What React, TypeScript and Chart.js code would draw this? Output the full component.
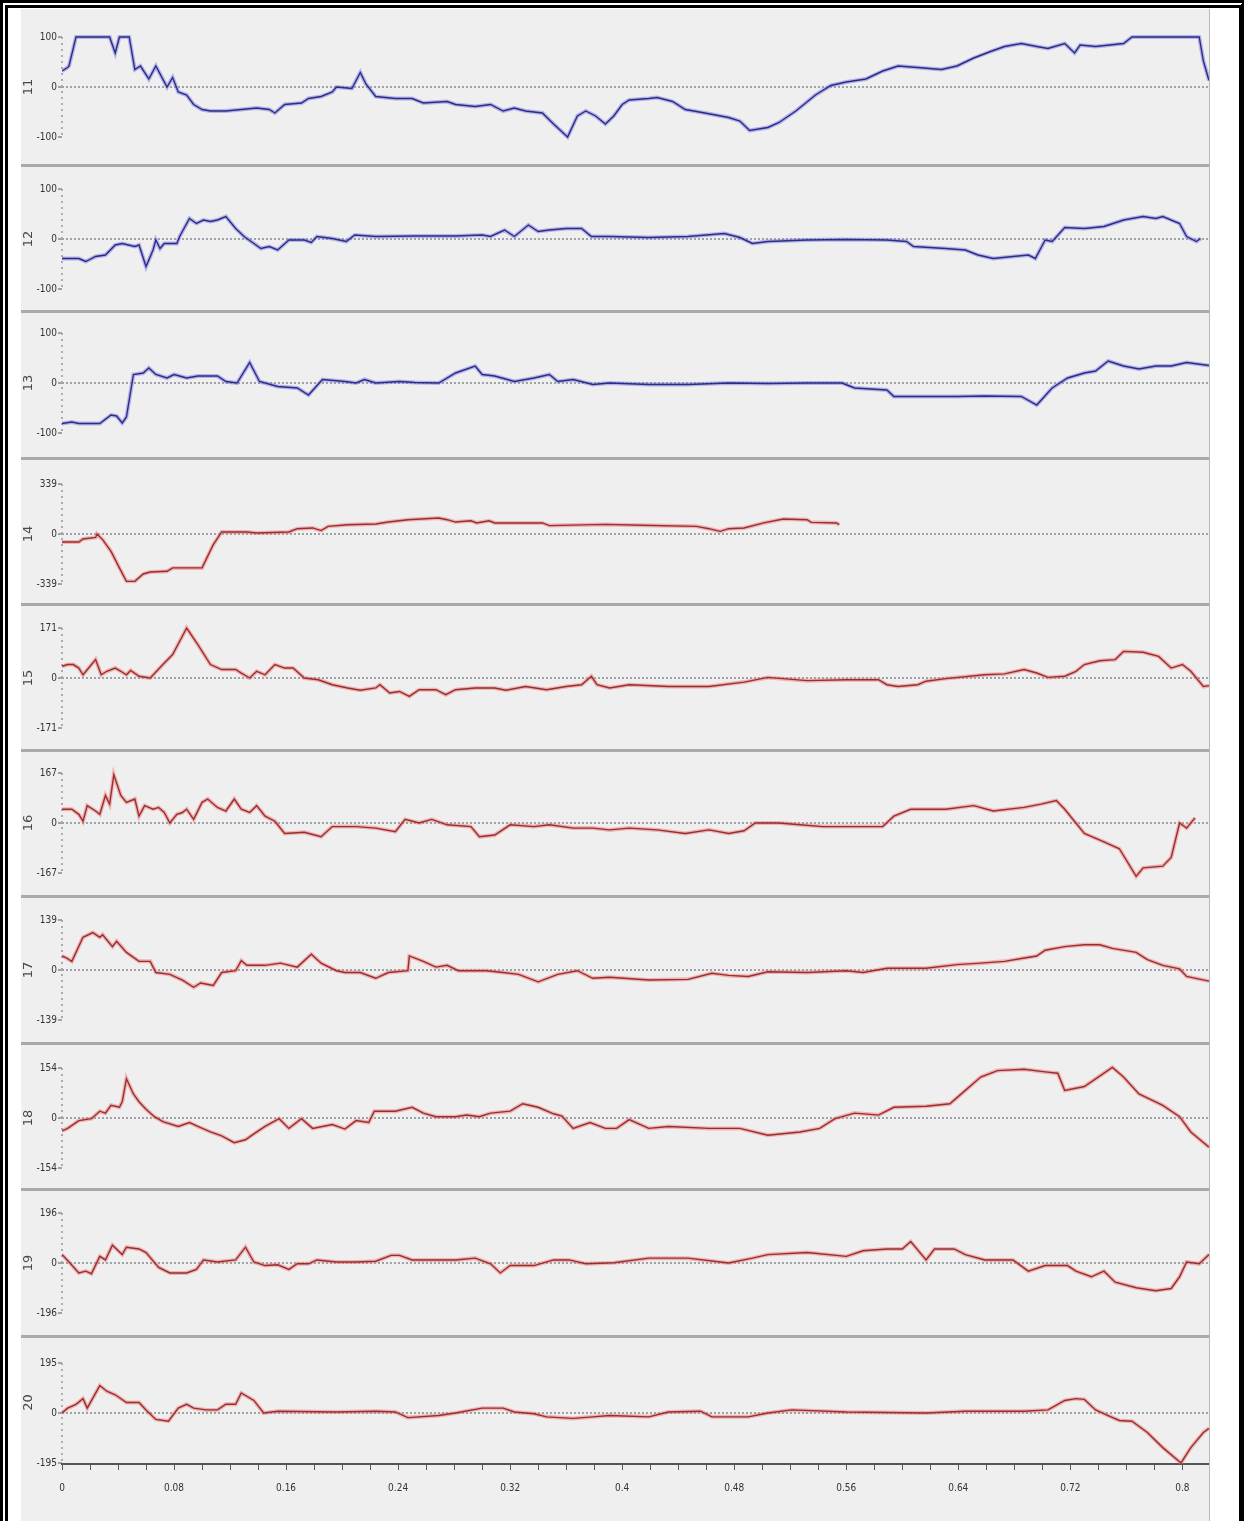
import React, { useEffect, useRef } from 'react';
import { Chart, registerables } from 'chart.js';

Chart.register(...registerables);

// ---------- DATA ----------
const panelNames = ['11', '12', '13', '14', '15', '16', '17', '18', '19', '20'];
const panelMax = [100, 100, 100, 339, 171, 167, 139, 154, 196, 195];
const panelColor = ['blue', 'blue', 'blue', 'red', 'red', 'red', 'red', 'red', 'red', 'red'];

const xTickLabels = ['0', '0.08', '0.16', '0.24', '0.32', '0.4', '0.48', '0.56', '0.64', '0.72', '0.8'];
const xMinorStep = 0.02;
const xMin = 0;
const xMax = 0.819;

const t11 = [0,0.004,0.005,0.010,0.034,0.038,0.041,0.048,0.052,0.056,0.062,0.067,0.075,0.079,0.083,0.089,0.094,0.100,0.106,0.117,0.128,0.139,0.148,0.152,0.159,0.171,0.176,0.185,0.193,0.196,0.207,0.213,0.217,0.224,0.238,0.250,0.258,0.275,0.281,0.295,0.306,0.315,0.323,0.331,0.343,0.351,0.361,0.368,0.374,0.381,0.388,0.394,0.400,0.405,0.419,0.425,0.436,0.445,0.459,0.476,0.484,0.491,0.504,0.512,0.524,0.538,0.549,0.560,0.574,0.586,0.597,0.611,0.628,0.639,0.651,0.663,0.673,0.685,0.696,0.704,0.716,0.723,0.727,0.738,0.758,0.764,0.812,0.815,0.819];
const v11 = [32,39,42,100,100,68,100,100,35,42,16,42,0,19,-10,-16,-35,-45,-48,-48,-45,-42,-45,-52,-35,-32,-23,-19,-10,0,-3,29,6,-19,-23,-23,-32,-29,-35,-39,-35,-48,-42,-48,-52,-74,-100,-58,-48,-58,-74,-58,-35,-26,-23,-21,-29,-45,-52,-61,-68,-87,-81,-71,-48,-16,3,10,16,32,42,39,35,42,58,71,81,87,81,77,87,68,84,81,87,100,100,52,13];

const t12 = [0,0.012,0.017,0.024,0.031,0.038,0.043,0.052,0.055,0.060,0.065,0.067,0.070,0.073,0.082,0.084,0.091,0.096,0.101,0.106,0.111,0.117,0.124,0.130,0.137,0.142,0.148,0.154,0.162,0.173,0.178,0.182,0.193,0.203,0.209,0.224,0.252,0.281,0.300,0.306,0.316,0.323,0.333,0.340,0.348,0.360,0.371,0.378,0.391,0.419,0.447,0.473,0.484,0.493,0.504,0.532,0.560,0.589,0.603,0.608,0.631,0.645,0.654,0.665,0.679,0.690,0.695,0.702,0.707,0.716,0.730,0.744,0.758,0.772,0.781,0.786,0.798,0.803,0.810,0.813];
const v12 = [-39,-39,-45,-35,-32,-12,-9,-15,-12,-55,-22,-2,-19,-9,-9,5,41,31,38,35,38,45,21,5,-9,-19,-15,-22,-2,-2,-7,5,1,-5,8,5,6,6,8,5,18,5,28,15,18,21,21,5,5,3,5,11,3,-9,-5,-2,-1,-2,-5,-15,-19,-22,-32,-39,-35,-32,-39,-2,-5,23,21,25,38,45,41,45,31,5,-5,1];

const t13 = [0,0.007,0.012,0.027,0.035,0.039,0.043,0.046,0.051,0.058,0.062,0.067,0.075,0.080,0.089,0.097,0.111,0.117,0.125,0.134,0.141,0.154,0.168,0.176,0.186,0.202,0.210,0.216,0.224,0.241,0.252,0.269,0.281,0.295,0.300,0.309,0.323,0.337,0.348,0.354,0.365,0.379,0.391,0.419,0.447,0.476,0.504,0.532,0.557,0.566,0.589,0.594,0.617,0.639,0.659,0.685,0.696,0.707,0.718,0.730,0.738,0.747,0.758,0.769,0.781,0.792,0.803,0.819];
const v13 = [-81,-78,-81,-81,-64,-66,-80,-68,17,20,30,17,10,17,10,14,14,3,0,41,3,-7,-10,-24,7,3,0,7,0,3,1,0,20,34,17,14,3,10,17,3,7,-3,0,-3,-3,0,-1,0,0,-10,-14,-27,-27,-27,-26,-27,-44,-10,10,20,24,44,34,28,34,34,41,35];

const t14 = [0,0.012,0.015,0.024,0.025,0.029,0.035,0.041,0.046,0.052,0.058,0.063,0.075,0.079,0.100,0.108,0.114,0.132,0.139,0.162,0.168,0.179,0.185,0.190,0.204,0.224,0.233,0.247,0.269,0.275,0.281,0.292,0.296,0.305,0.309,0.343,0.348,0.388,0.414,0.453,0.462,0.470,0.476,0.487,0.501,0.515,0.532,0.535,0.553,0.555];
const v14 = [-54,-54,-34,-23,0,-38,-118,-230,-321,-321,-271,-258,-253,-230,-230,-72,14,14,7,14,36,41,23,52,63,68,81,97,108,97,81,90,75,90,75,75,57,65,59,52,36,18,36,41,75,102,97,79,75,63];

const t15 = [0,0.004,0.008,0.012,0.015,0.019,0.024,0.028,0.032,0.038,0.042,0.046,0.049,0.055,0.063,0.072,0.079,0.089,0.097,0.106,0.114,0.124,0.128,0.134,0.139,0.145,0.152,0.159,0.165,0.173,0.183,0.193,0.204,0.213,0.224,0.227,0.234,0.241,0.248,0.255,0.267,0.274,0.281,0.295,0.309,0.317,0.331,0.346,0.360,0.371,0.378,0.382,0.391,0.405,0.433,0.462,0.487,0.504,0.532,0.560,0.583,0.589,0.597,0.611,0.617,0.631,0.659,0.673,0.687,0.696,0.704,0.716,0.724,0.730,0.741,0.752,0.758,0.772,0.783,0.792,0.800,0.806,0.815,0.819];
const v15 = [40,46,46,34,11,34,63,11,23,34,23,11,26,6,0,46,80,171,114,46,29,29,17,0,23,11,46,34,34,0,-6,-23,-34,-42,-34,-23,-51,-46,-63,-40,-40,-57,-40,-34,-34,-42,-29,-40,-29,-23,6,-23,-34,-23,-29,-29,-14,2,-9,-6,-6,-23,-29,-23,-11,-2,11,14,29,17,2,6,23,46,59,63,91,88,74,34,46,23,-29,-26];

const t16 = [0,0.007,0.012,0.015,0.018,0.024,0.027,0.031,0.034,0.037,0.042,0.046,0.052,0.055,0.059,0.065,0.069,0.073,0.077,0.082,0.086,0.089,0.094,0.100,0.104,0.111,0.117,0.123,0.128,0.134,0.139,0.145,0.152,0.159,0.173,0.185,0.193,0.210,0.224,0.238,0.245,0.255,0.264,0.275,0.292,0.298,0.309,0.320,0.337,0.348,0.365,0.379,0.391,0.405,0.425,0.445,0.462,0.476,0.487,0.495,0.512,0.527,0.543,0.560,0.586,0.594,0.606,0.631,0.651,0.665,0.687,0.699,0.710,0.716,0.730,0.744,0.755,0.767,0.772,0.786,0.792,0.798,0.803,0.809];
const v16 = [46,46,29,6,58,40,29,92,63,161,92,69,80,23,58,46,52,35,0,29,35,46,12,69,80,52,40,80,46,35,58,23,6,-35,-31,-46,-12,-12,-17,-29,12,0,12,-6,-12,-46,-40,-6,-12,-6,-17,-17,-23,-17,-23,-35,-23,-35,-26,0,0,-6,-12,-12,-12,23,46,46,58,40,52,63,75,46,-35,-63,-86,-178,-150,-144,-115,0,-17,17];

const t17 = [0,0.003,0.007,0.015,0.022,0.027,0.029,0.036,0.039,0.046,0.055,0.063,0.067,0.077,0.086,0.094,0.099,0.108,0.114,0.124,0.128,0.132,0.145,0.156,0.168,0.178,0.185,0.196,0.202,0.213,0.224,0.233,0.247,0.248,0.258,0.267,0.275,0.283,0.303,0.315,0.326,0.340,0.354,0.368,0.379,0.391,0.419,0.447,0.464,0.476,0.490,0.504,0.532,0.560,0.572,0.589,0.617,0.639,0.656,0.673,0.685,0.696,0.702,0.716,0.730,0.741,0.750,0.767,0.775,0.786,0.798,0.803,0.819];
const v17 = [39,34,24,91,104,91,98,65,80,49,24,24,-7,-12,-28,-48,-36,-43,-7,-2,26,13,13,19,8,44,19,-2,-7,-7,-23,-7,-2,39,24,8,13,-2,-2,-7,-12,-33,-12,-2,-23,-20,-28,-26,-9,-15,-18,-5,-7,-2,-7,5,5,15,19,24,32,39,55,65,70,70,60,49,29,13,3,-18,-31];

const t18 = [0,0.004,0.012,0.021,0.027,0.031,0.035,0.041,0.043,0.046,0.051,0.055,0.060,0.066,0.072,0.083,0.091,0.097,0.106,0.114,0.123,0.131,0.137,0.145,0.155,0.162,0.171,0.179,0.193,0.202,0.210,0.219,0.223,0.238,0.250,0.258,0.267,0.281,0.289,0.298,0.306,0.320,0.329,0.340,0.351,0.357,0.365,0.377,0.388,0.396,0.405,0.419,0.433,0.462,0.484,0.504,0.527,0.541,0.552,0.566,0.583,0.594,0.617,0.634,0.645,0.656,0.668,0.687,0.702,0.711,0.716,0.730,0.750,0.758,0.769,0.786,0.798,0.806,0.819];
const v18 = [-40,-32,-8,-2,21,15,39,33,50,121,74,50,27,4,-11,-26,-14,-26,-43,-55,-76,-67,-49,-26,-2,-32,-2,-32,-20,-34,-8,-14,21,21,33,15,4,4,9,4,15,21,44,33,13,6,-32,-14,-32,-32,-5,-32,-26,-32,-32,-53,-43,-32,-2,15,9,33,36,44,85,126,146,150,142,138,85,97,156,126,74,39,4,-43,-90];

const t19 = [0,0.005,0.012,0.017,0.021,0.027,0.031,0.036,0.043,0.046,0.055,0.060,0.069,0.077,0.089,0.096,0.101,0.111,0.124,0.131,0.137,0.145,0.154,0.162,0.168,0.176,0.182,0.196,0.210,0.224,0.235,0.241,0.250,0.267,0.281,0.295,0.306,0.313,0.320,0.337,0.351,0.362,0.374,0.394,0.419,0.447,0.476,0.493,0.504,0.532,0.560,0.572,0.589,0.600,0.606,0.617,0.623,0.637,0.645,0.659,0.679,0.690,0.702,0.718,0.724,0.735,0.744,0.752,0.767,0.781,0.792,0.798,0.803,0.812,0.819];
const v19 = [33,4,-39,-32,-42,26,12,70,33,62,55,41,-17,-39,-39,-25,12,4,12,62,4,-10,-7,-25,-3,-3,12,4,4,7,30,30,12,12,12,19,-3,-39,-10,-10,12,12,-3,1,19,19,0,19,33,41,26,48,55,55,84,12,55,55,33,12,12,-32,-10,-10,-32,-54,-32,-75,-97,-109,-100,-54,4,-3,33];

const t20 = [0,0.004,0.010,0.015,0.018,0.027,0.032,0.038,0.046,0.055,0.060,0.067,0.076,0.083,0.089,0.094,0.103,0.111,0.117,0.124,0.128,0.137,0.144,0.154,0.196,0.224,0.238,0.247,0.269,0.281,0.300,0.315,0.323,0.337,0.346,0.365,0.379,0.391,0.419,0.433,0.456,0.464,0.490,0.504,0.521,0.560,0.617,0.645,0.687,0.704,0.716,0.724,0.730,0.738,0.747,0.755,0.764,0.775,0.786,0.799,0.806,0.815,0.819];
const v20 = [0,19,34,56,19,107,85,71,41,41,12,-25,-32,19,34,19,12,12,34,34,78,49,0,7,4,7,4,-18,-10,0,19,19,4,-3,-15,-21,-15,-10,-15,4,7,-15,-15,0,12,4,0,7,7,12,49,56,53,12,-10,-29,-32,-76,-135,-195,-135,-76,-60];

const seriesT = [t11, t12, t13, t14, t15, t16, t17, t18, t19, t20];
const seriesV = [v11, v12, v13, v14, v15, v16, v17, v18, v19, v20];

// ---------- LAYOUT ----------
const PANEL_LEFT = 21;
const PANEL_WIDTH = 1188;
const zeroY = [87, 239, 383, 534, 678, 823, 970, 1118, 1263, 1413];
const HALF_PX = 72;
const UNIT_PX = 50;
const AXIS_Y = 1464;
const PAGE_H = 1521;
const separatorY = [164, 310, 457, 603, 749, 895, 1042, 1188, 1335];

const TICK_FONT = '"Liberation Sans Narrow", "DejaVu Sans Condensed", "Liberation Sans", Arial, sans-serif';

const dottedAxisPlugin = {
  id: 'dottedAxis',
  beforeDatasetsDraw(chart: any) {
    const ys = chart.scales.y;
    const ca = chart.chartArea;
    const ctx = chart.ctx;
    const vals = ys.ticks.map((t: any) => t.value);
    const top = ys.getPixelForValue(Math.max(...vals));
    const bottom = ys.getPixelForValue(Math.min(...vals));
    ctx.save();
    ctx.strokeStyle = '#ababab';
    ctx.lineWidth = 2;
    ctx.setLineDash([2, 4]);
    ctx.beginPath();
    ctx.moveTo(ca.left, top);
    ctx.lineTo(ca.left, bottom);
    ctx.stroke();
    ctx.restore();
  },
};

function panelGeom(i: number) {
  const last = i === panelMax.length - 1;
  const top = zeroY[i] - HALF_PX;
  const height = last ? PAGE_H - top : HALF_PX * 2;
  return { last, top, height };
}

function makeConfig(i: number): any {
  const M = panelMax[i];
  const { last } = panelGeom(i);
  const blue = panelColor[i] === 'blue';
  const tArr = seriesT[i];
  const vArr = seriesV[i];
  const n = Math.min(tArr.length, vArr.length);
  const data: { x: number; y: number }[] = [];
  for (let k = 0; k < n; k++) data.push({ x: tArr[k], y: vArr[k] });

  const yMax = (M * HALF_PX) / UNIT_PX;
  const yMin = last ? -(M * (AXIS_Y - zeroY[i])) / UNIT_PX : -yMax;
  const yLabels = [String(-M), '0', String(M)];

  const xTicks: number[] = [];
  const nMinor = Math.round((xTickLabels.length - 1) * 4);
  for (let k = 0; k <= nMinor; k++) xTicks.push(+(k * xMinorStep).toFixed(2));

  return {
    type: 'line',
    data: {
      datasets: [
        {
          data,
          borderColor: blue ? '#2c2c88' : '#982f2f',
          borderWidth: 1.4,
          pointRadius: 0,
          tension: 0,
          order: 1,
        },
        {
          data,
          borderColor: blue ? 'rgba(120,120,225,0.5)' : 'rgba(238,120,120,0.5)',
          borderWidth: 4,
          pointRadius: 0,
          tension: 0,
          order: 2,
        },
      ],
    },
    options: {
      responsive: false,
      animation: false,
      devicePixelRatio: 1,
      events: [],
      layout: { padding: 0 },
      plugins: { legend: { display: false }, tooltip: { enabled: false } },
      scales: {
        x: {
          type: 'linear',
          min: xMin,
          max: xMax,
          display: last,
          afterBuildTicks: (s: any) => {
            s.ticks = xTicks.map((v) => ({ value: v }));
          },
          afterFit: (s: any) => {
            s.height = last ? PAGE_H - AXIS_Y : 0;
            s.paddingLeft = 0;
            s.paddingRight = 0;
          },
          ticks: {
            autoSkip: false,
            maxRotation: 0,
            minRotation: 0,
            padding: 12,
            color: '#333',
            font: { family: TICK_FONT, size: 10 },
            callback: (v: number) => {
              const k = Math.round(v / xMinorStep);
              return k % 4 === 0 ? xTickLabels[k / 4] ?? '' : '';
            },
          },
          grid: {
            drawOnChartArea: false,
            drawTicks: true,
            tickLength: 6,
            tickColor: '#555',
            tickWidth: 1,
          },
          border: { display: true, color: '#555', width: 2 },
        },
        y: {
          type: 'linear',
          min: yMin,
          max: yMax,
          afterBuildTicks: (s: any) => {
            s.ticks = [{ value: -M }, { value: 0 }, { value: M }];
          },
          afterFit: (s: any) => {
            s.width = 62 - PANEL_LEFT;
            s.paddingTop = 0;
            s.paddingBottom = 0;
          },
          ticks: {
            padding: 1,
            color: '#333',
            font: { family: TICK_FONT, size: 10 },
            callback: (v: number) => (v < 0 ? yLabels[0] : v > 0 ? yLabels[2] : yLabels[1]),
          },
          grid: {
            drawOnChartArea: true,
            color: (ctx: any) => (ctx.tick && ctx.tick.value === 0 ? '#9ea3a8' : 'rgba(0,0,0,0)'),
            lineWidth: 2,
            drawTicks: true,
            tickLength: 4,
            tickColor: '#555',
            tickWidth: 1,
          },
          border: { display: false, dash: [2, 2] },
          title: {
            display: true,
            text: panelNames[i],
            color: '#4a4a4a',
            font: { family: 'DejaVu Sans', size: 13 },
            padding: 0,
          },
        },
      },
    },
    plugins: [dottedAxisPlugin],
  };
}

export default function App() {
  const refs = useRef<(HTMLCanvasElement | null)[]>([]);

  useEffect(() => {
    const charts: Chart[] = [];
    panelMax.forEach((_, i) => {
      const c = refs.current[i];
      if (c) charts.push(new Chart(c, makeConfig(i)));
    });
    return () => charts.forEach((c) => c.destroy());
  }, []);

  return (
    <div style={{ position: 'absolute', left: 0, top: 0, width: 1244, height: PAGE_H, background: '#fff', overflow: 'hidden' }}>
      <div style={{ position: 'absolute', left: PANEL_LEFT, top: 9, width: PANEL_WIDTH, height: PAGE_H - 9, background: '#efefef' }} />
      <div style={{ position: 'absolute', left: PANEL_LEFT + PANEL_WIDTH, top: 9, width: 1, height: PAGE_H - 9, background: '#b8b8b8' }} />
      {separatorY.map((y, k) => (
        <div key={'s' + k} style={{ position: 'absolute', left: PANEL_LEFT, top: y, width: PANEL_WIDTH, height: 3, background: '#a9a9a9' }} />
      ))}
      {panelMax.map((_, i) => {
        const g = panelGeom(i);
        return (
          <canvas
            key={i}
            ref={(el) => {
              refs.current[i] = el;
            }}
            width={PANEL_WIDTH}
            height={g.height}
            style={{ position: 'absolute', left: PANEL_LEFT, top: g.top, width: PANEL_WIDTH, height: g.height }}
          />
        );
      })}
      <div
        style={{
          position: 'absolute',
          left: 0,
          top: 0,
          width: 1244,
          height: PAGE_H,
          boxSizing: 'border-box',
          borderTop: '8px double #000',
          borderLeft: '8px double #000',
          borderRight: '5px solid #000',
          pointerEvents: 'none',
        }}
      />
    </div>
  );
}
